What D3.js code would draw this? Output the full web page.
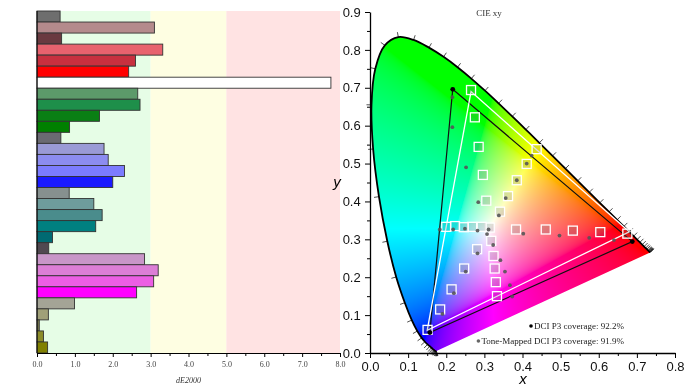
<!DOCTYPE html>
<html><head><meta charset="utf-8">
<script src="https://cdn.jsdelivr.net/npm/d3@7/dist/d3.min.js"></script>
<style>
body{margin:0;background:#fff;}
#wrap{position:relative;width:693px;height:390px;overflow:hidden;}
canvas,svg{position:absolute;left:0;top:0;}
</style></head><body>
<div id="wrap"><canvas id="cv" width="693" height="390"></canvas><svg id="sv" width="693" height="390"></svg></div>
<script>
// ---------- Data: dE2000 bars ----------
const barValues = [0.61, 3.10, 0.65, 3.32, 2.60, 2.42, 7.76, 2.66, 2.72, 1.65, 0.86,
  0.63, 1.77, 1.88, 2.31, 2.00, 0.85, 1.50, 1.72, 1.55, 0.41, 0.31,
  2.84, 3.20, 3.08, 2.63, 0.99, 0.30, 0.06, 0.17, 0.28];
const barColors = ["#6e6e6e","#b48a8c","#6a3a40","#e8626e","#c8303f","#ff0000","#ffffff",
  "#5c9a6a","#1e8f4a","#0a7f14","#008000","#6a6a72","#9a9ad6","#8c8cf0","#7c7cff","#1a1aff",
  "#86908f","#6e9c9c","#4a8c8c","#008080","#006a72","#504850","#c896c8","#dc7ed6","#ec5ee4",
  "#ff00ff","#a4a496","#a0a078","#7c7c50","#8c8c2a","#808000"];
const dETicks = [0,1,2,3,4,5,6,7,8];
const dEMinorTicks = [0.5,1.5,2.5,3.5,4.5,5.5,6.5,7.5];
const bandEdges = [0,3,5,8];

// ---------- Data: CIE 1931 spectral locus (380-700 nm) ----------
const wavelengths = [380,385,390,395,400,405,410,415,420,425,430,435,440,445,450,455,460,465,470,475,480,485,490,495,500,505,510,515,520,525,530,535,540,545,550,555,560,565,570,575,580,585,590,595,600,605,610,615,620,625,630,635,640,645,650,655,660,665,670,675,680,685,690,695,700];
const locusX = [0.1741,0.1740,0.1738,0.1736,0.1733,0.1730,0.1726,0.1721,0.1714,0.1703,0.1689,0.1669,0.1644,0.1611,0.1566,0.1510,0.1440,0.1355,0.1241,0.1096,0.0913,0.0687,0.0454,0.0235,0.0082,0.0039,0.0139,0.0389,0.0743,0.1142,0.1547,0.1929,0.2296,0.2658,0.3016,0.3373,0.3731,0.4087,0.4441,0.4788,0.5125,0.5448,0.5752,0.6029,0.6270,0.6482,0.6658,0.6801,0.6915,0.7006,0.7079,0.7140,0.7190,0.7230,0.7260,0.7283,0.7300,0.7311,0.7320,0.7327,0.7334,0.7340,0.7344,0.7346,0.7347];
const locusY = [0.0050,0.0050,0.0049,0.0049,0.0048,0.0048,0.0048,0.0048,0.0051,0.0058,0.0069,0.0086,0.0109,0.0138,0.0177,0.0227,0.0297,0.0399,0.0578,0.0868,0.1327,0.2007,0.2950,0.4127,0.5384,0.6548,0.7502,0.8120,0.8338,0.8262,0.8059,0.7816,0.7543,0.7243,0.6923,0.6589,0.6245,0.5896,0.5547,0.5202,0.4866,0.4544,0.4242,0.3965,0.3725,0.3514,0.3340,0.3197,0.3083,0.2993,0.2920,0.2859,0.2809,0.2770,0.2740,0.2717,0.2700,0.2689,0.2680,0.2673,0.2666,0.2660,0.2656,0.2654,0.2653];

// ---------- Data: gamut points ----------
// order: white, red 20..100, green 20..100, blue 20..100, cyan 20..100, magenta 20..100, yellow 20..100
const targetX = [0.314, 0.383,0.461,0.532,0.604,0.675, 0.305,0.296,0.285,0.275,0.265, 0.281,0.247,0.214,0.184,0.151, 0.293,0.268,0.246,0.223,0.200, 0.318,0.324,0.327,0.330,0.333, 0.341,0.362,0.385,0.411,0.437];
const targetY = [0.331, 0.326,0.326,0.323,0.319,0.315, 0.402,0.470,0.544,0.622,0.694, 0.274,0.223,0.168,0.115,0.061, 0.333,0.333,0.332,0.335,0.333, 0.296,0.256,0.223,0.187,0.150, 0.373,0.414,0.456,0.499,0.538];
const measuredX = [0.311, 0.402,0.497,0.575,0.640,0.688, 0.284,0.252,0.216,0.216,0.217, 0.282,0.251,0.220,0.190,0.157, 0.307,0.282,0.249,0.218,0.183, 0.323,0.342,0.354,0.367,0.373, 0.338,0.356,0.385,0.411,0.424];
const measuredY = [0.326, 0.315,0.310,0.304,0.298,0.294, 0.398,0.490,0.596,0.675,0.696, 0.263,0.215,0.158,0.103,0.054, 0.314,0.323,0.328,0.326,0.326, 0.285,0.245,0.215,0.179,0.149, 0.363,0.409,0.456,0.500,0.521];
const targetPrimX = [0.680, 0.265, 0.150];
const targetPrimY = [0.320, 0.690, 0.060];
const measuredPrimX = [0.688, 0.217, 0.157];
const measuredPrimY = [0.294, 0.696, 0.054];
const xyXTicks = [0,0.1,0.2,0.3,0.4,0.5,0.6,0.7,0.8];
const xyYTicks = [0,0.1,0.2,0.3,0.4,0.5,0.6,0.7,0.8,0.9];
const legendLabels = ["DCI P3 coverage: 92.2%", "Tone-Mapped DCI P3 coverage: 91.9%"];

const SERIF = "'Liberation Serif','Times New Roman',serif";
const SANS = "'Liberation Sans',Arial,sans-serif";
const svg = d3.select("#sv");

// ================= LEFT: dE2000 bars =================
const bx = d3.scaleLinear().domain([0,8]).range([37,340]);
const by = d3.scaleBand().domain(d3.range(barValues.length)).range([11,353]).padding(0);
const bandColors = ["#e6fde6","#fefee2","#ffe3e3"];
const gL = svg.append("g");
gL.selectAll("rect.band").data(d3.pairs(bandEdges)).join("rect")
  .attr("x", d => bx(d[0])).attr("width", d => bx(d[1]) - bx(d[0]))
  .attr("y", 11).attr("height", 353 - 11)
  .attr("fill", (d,i) => bandColors[i]);
gL.selectAll("rect.bar").data(barValues).join("rect")
  .attr("x", bx(0)).attr("y", (d,i) => by(i))
  .attr("width", d => bx(d) - bx(0)).attr("height", by.bandwidth())
  .attr("fill", (d,i) => barColors[i]).attr("stroke", "#333").attr("stroke-width", 0.9);
const axL = gL.append("g").attr("transform","translate(0,353)")
  .call(d3.axisBottom(bx).tickValues(dETicks).tickFormat(d3.format(".1f")).tickSize(4).tickSizeOuter(0));
axL.selectAll("text").attr("font-family", SERIF).attr("font-size", 8).attr("fill","#444").attr("dy","0.9em");
axL.select(".domain").attr("stroke","#000").attr("stroke-width",1.2);
gL.append("g").attr("transform","translate(0,353)")
  .call(d3.axisBottom(bx).tickValues(dEMinorTicks).tickFormat("").tickSize(3).tickSizeOuter(0))
  .select(".domain").remove();
gL.append("line").attr("x1",bx(0)).attr("x2",bx(0)).attr("y1",11).attr("y2",353).attr("stroke","#000").attr("stroke-width",1);
gL.append("text").attr("x",(bx(0)+bx(8))/2).attr("y",383).attr("text-anchor","middle")
  .attr("font-family",SERIF).attr("font-style","italic").attr("font-size",8).attr("fill","#333").text("dE2000");

// ================= RIGHT: CIE xy =================
const cx = d3.scaleLinear().domain([0,0.8]).range([370,675]);
const cy = d3.scaleLinear().domain([0,0.9]).range([353,12]);
const locus = wavelengths.map((w,i) => [locusX[i], locusY[i]]);
const locusLine = d3.line().x(d=>cx(d[0])).y(d=>cy(d[1])).curve(d3.curveCatmullRom.alpha(0.5));

// chromaticity fill on canvas
(function(){
  const ctx = document.getElementById("cv").getContext("2d");
  const x0 = Math.floor(cx(0)) - 2, x1 = Math.ceil(cx(0.75)), y0 = Math.floor(cy(0.86)), y1 = Math.ceil(cy(0)) + 2;
  const W = x1 - x0, H = y1 - y0;
  const off = document.createElement("canvas");
  off.width = W; off.height = H;
  const octx = off.getContext("2d");
  const img = octx.createImageData(W, H);
  const gam = v => v <= 0.0031308 ? 12.92*v : 1.055*Math.pow(v,1/2.4) - 0.055;
  for (let j = 0; j < H; j++) {
    for (let i = 0; i < W; i++) {
      const x = cx.invert(x0 + i + 0.5);
      const y = Math.max(cy.invert(y0 + j + 0.5), 0.001);
      const X = x/y, Y = 1, Z = Math.max(1-x-y, 0)/y;
      let r = 3.2406*X - 1.5372*Y - 0.4986*Z;
      let g = -0.9689*X + 1.8758*Y + 0.0415*Z;
      let b = 0.0557*X - 0.2040*Y + 1.0570*Z;
      r = Math.max(r,0); g = Math.max(g,0); b = Math.max(b,0);
      const m = Math.max(r,g,b) || 1;
      r/=m; g/=m; b/=m;
      const k = 4*(j*W + i);
      img.data[k] = Math.round(255*gam(r));
      img.data[k+1] = Math.round(255*gam(g));
      img.data[k+2] = Math.round(255*gam(b));
      img.data[k+3] = 255;
    }
  }
  octx.putImageData(img, 0, 0);
  ctx.save();
  ctx.beginPath();
  locusLine.context(ctx)(locus);
  ctx.closePath();
  ctx.clip();
  ctx.drawImage(off, x0, y0);
  ctx.restore();
  locusLine.context(null);
})();

const gR = svg.append("g");
// locus ticks
const pts = locus.map(p => [cx(p[0]), cy(p[1])]);
const ctr = [cx(0.33), cy(0.33)];
const tickSegs = pts.map((p,i) => {
  const a = pts[Math.max(0,i-1)], b = pts[Math.min(pts.length-1,i+1)];
  let tx = b[0]-a[0], ty = b[1]-a[1];
  const L = Math.hypot(tx,ty) || 1;
  let nx = -ty/L, ny = tx/L;
  if (nx*(p[0]-ctr[0]) + ny*(p[1]-ctr[1]) < 0) { nx = -nx; ny = -ny; }
  return [p, [p[0]+nx*5, p[1]+ny*5]];
});
gR.selectAll("line.lt").data(tickSegs).join("line")
  .attr("x1",d=>d[0][0]).attr("y1",d=>d[0][1]).attr("x2",d=>d[1][0]).attr("y2",d=>d[1][1])
  .attr("stroke","#222").attr("stroke-width",0.8);
gR.append("path").datum(locus)
  .attr("d", locusLine)
  .attr("fill","none").attr("stroke","#000").attr("stroke-width",1.8);

// triangles
const tri = (xs, ys) => xs.map((v,i)=>[cx(v), cy(ys[i])]);
gR.append("polygon").attr("points", tri(measuredPrimX, measuredPrimY).join(" "))
  .attr("fill","none").attr("stroke","#111").attr("stroke-width",1.2);
gR.append("polygon").attr("points", tri(targetPrimX, targetPrimY).join(" "))
  .attr("fill","none").attr("stroke","#fff").attr("stroke-width",1.3);

// target squares
const S = 9;
gR.selectAll("rect.tg").data(targetX).join("rect")
  .attr("x",(d)=>cx(d)-S/2).attr("y",(d,i)=>cy(targetY[i])-S/2)
  .attr("width",S).attr("height",S)
  .attr("fill","rgba(110,110,110,0.22)").attr("stroke","#fff").attr("stroke-width",1.3);
// measured dots
gR.selectAll("circle.ms").data(measuredX).join("circle")
  .attr("cx",d=>cx(d)).attr("cy",(d,i)=>cy(measuredY[i])).attr("r",1.9)
  .attr("fill","#555").attr("opacity",0.9);
gR.selectAll("circle.pr").data(measuredPrimX).join("circle")
  .attr("cx",d=>cx(d)).attr("cy",(d,i)=>cy(measuredPrimY[i])).attr("r",2.4).attr("fill","#000");

// axes
const axX = gR.append("g").attr("transform","translate(0,353)")
  .call(d3.axisBottom(cx).tickValues(xyXTicks).tickFormat(d3.format(".1f")).tickSize(5).tickSizeOuter(0));
axX.selectAll("text").attr("font-family",SANS).attr("font-size",13).attr("fill","#111").attr("dy","0.78em");
axX.select(".domain").attr("stroke-width",1.3);
gR.append("g").attr("transform","translate(0,353)")
  .call(d3.axisBottom(cx).tickValues(d3.range(0.05,0.8,0.1)).tickFormat("").tickSize(3).tickSizeOuter(0))
  .select(".domain").remove();
const axY = gR.append("g").attr("transform","translate(370,0)")
  .call(d3.axisLeft(cy).tickValues(xyYTicks).tickFormat(d3.format(".1f")).tickSize(5).tickSizeOuter(0));
axY.selectAll("text").attr("font-family",SANS).attr("font-size",13).attr("fill","#111").attr("dx","-0.1em");
axY.select(".domain").attr("stroke-width",1.3);
gR.append("g").attr("transform","translate(370,0)")
  .call(d3.axisLeft(cy).tickValues(d3.range(0.05,0.9,0.1)).tickFormat("").tickSize(3).tickSizeOuter(0))
  .select(".domain").remove();

gR.append("text").attr("x",523).attr("y",384).attr("text-anchor","middle")
  .attr("font-family",SANS).attr("font-style","italic").attr("font-size",15).text("x");
gR.append("text").attr("x",337).attr("y",187).attr("text-anchor","middle")
  .attr("font-family",SANS).attr("font-style","italic").attr("font-size",15).text("y");
gR.append("text").attr("x",489).attr("y",16).attr("text-anchor","middle")
  .attr("font-family",SERIF).attr("font-size",9).attr("fill","#333").text("CIE xy");

// legend
const legColors = ["#000","#666"];
const leg = gR.selectAll("g.leg").data(legendLabels).join("g")
  .attr("transform",(d,i)=>`translate(624,${329 + i*15})`);
leg.append("text").attr("text-anchor","end").attr("font-family",SERIF).attr("font-size",9).attr("fill","#222").text(d=>d);
leg.each(function(d,i){
  const t = d3.select(this).select("text").node();
  const w = t.getComputedTextLength();
  d3.select(this).append("circle").attr("cx",-w-3).attr("cy",-3).attr("r",1.8).attr("fill",legColors[i]);
});
</script>
</body></html>
